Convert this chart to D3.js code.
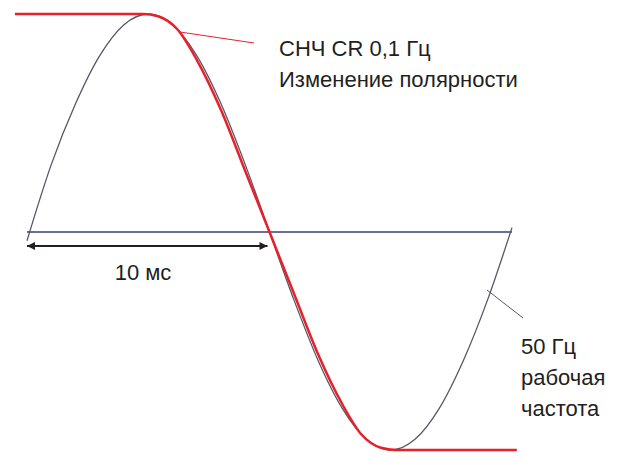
<!DOCTYPE html>
<html><head><meta charset="utf-8">
<script src="https://cdn.jsdelivr.net/npm/d3@7"></script>
<style>body{margin:0;background:#fff}text{font-family:"Liberation Sans",Arial,sans-serif;fill:#231f20}</style>
</head><body><svg id="c" width="633" height="465"></svg>
<script>
// 50 Hz sine, sampled every 1 ms
var sineT = [0,1,2,3,4,5,6,7,8,9,10,11,12,13,14,15,16,17,18,19,20];
var sineV = [-0.04,0.309,0.588,0.809,0.951,1,0.951,0.809,0.588,0.309,0,-0.309,-0.588,-0.809,-0.951,-1,-0.951,-0.809,-0.588,-0.309,0.02];
// low-frequency polarity change (red)
var redT = [-0.5,4.8,5.4,6.2,7,8,9,10,11,12,13,13.8,14.6,15.2,20.2];
var redV = [1,1,0.99,0.93,0.79,0.56,0.28,0,-0.28,-0.56,-0.79,-0.93,-0.99,-1,-1];

var svg = d3.select("#c");
var x = d3.scaleLinear().domain([0,20]).range([27,512]);
var y = d3.scaleLinear().domain([-1,1]).range([450,14]);

// zero axis
svg.append("line").attr("x1",x(0)).attr("x2",x(20)).attr("y1",y(0)).attr("y2",y(0))
  .attr("stroke","#3b3b7a").attr("stroke-width",1.3);

var line = d3.line().x(d => x(d[0])).y(d => y(d[1]));
svg.append("path").datum(sineT.map((t,i) => [t,sineV[i]]))
  .attr("d", line.curve(d3.curveCardinal)).attr("fill","none").attr("stroke","#55576a").attr("stroke-width",1.3);
svg.append("path").datum(redT.map((t,i) => [t,redV[i]]))
  .attr("d", line.curve(d3.curveMonotoneX)).attr("fill","none").attr("stroke","#e8202a").attr("stroke-width",2.5);

// 10 ms arrow
svg.append("defs").append("marker")
  .attr("id","ar").attr("viewBox","0 0 10 10").attr("refX",10).attr("refY",5)
  .attr("markerWidth",5).attr("markerHeight",4).attr("orient","auto-start-reverse")
  .attr("markerUnits","strokeWidth")
  .append("path").attr("d","M0,0L10,5L0,10Z").attr("fill","#231f20");
svg.append("line").attr("x1",x(0)).attr("x2",x(10)-2).attr("y1",246).attr("y2",246)
  .attr("stroke","#231f20").attr("stroke-width",2)
  .attr("marker-start","url(#ar)").attr("marker-end","url(#ar)");
svg.append("text").attr("x",143).attr("y",280).attr("text-anchor","middle").attr("font-size",22).text("10 мс");

// labels
svg.append("line").attr("x1",180).attr("y1",32).attr("x2",254).attr("y2",43).attr("stroke","#e8202a").attr("stroke-width",1);
svg.append("text").attr("x",279).attr("y",56).attr("font-size",22).text("СНЧ CR 0,1 Гц");
svg.append("text").attr("x",279).attr("y",87).attr("font-size",22).text("Изменение полярности");

svg.append("line").attr("x1",487).attr("y1",290).attr("x2",523).attr("y2",318).attr("stroke","#55576a").attr("stroke-width",1);
["50 Гц","рабочая","частота"].forEach(function(s,i){
  svg.append("text").attr("x",521).attr("y",354+i*31).attr("font-size",22).text(s);
});
</script></body></html>
